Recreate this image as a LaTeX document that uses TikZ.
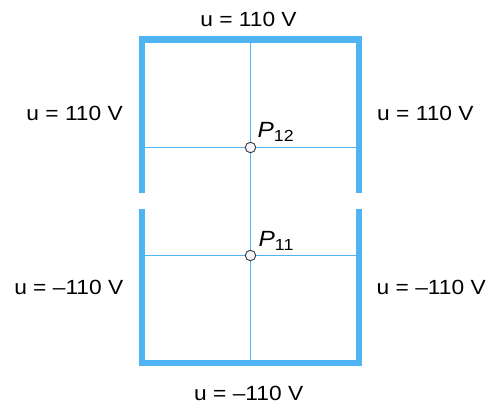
\documentclass[tikz,border=0pt]{standalone}
\usepackage{fontspec}
\setmainfont{Liberation Sans}
\newfontfamily\lblfont[FakeStretch=1.11]{Liberation Sans}
\definecolor{wallblue}{RGB}{80,180,242}
\definecolor{ptedge}{RGB}{60,60,60}
\definecolor{ptfill}{RGB}{246,246,252}
\begin{document}
\begin{tikzpicture}[x=1pt,y=-1pt,
  wall/.style={draw=wallblue,line width=6.2pt,line cap=butt,line join=miter},
  grid/.style={draw=wallblue,line width=1.1pt},
  pt/.style={circle,draw=ptedge,fill=ptfill,line width=0.9pt,minimum size=10.5pt,inner sep=0pt},
  lbl/.style={inner sep=0pt,font=\lblfont\fontsize{20.5}{22}\selectfont},
  plbl/.style={inner sep=0pt,anchor=base west,font=\lblfont\fontsize{22}{24}\selectfont\itshape}]
\useasboundingbox (0,0) rectangle (491,406);
% corners and ends
\coordinate (tl) at (142.3,39.5);
\coordinate (tr) at (358.6,39.5);
\coordinate (bl) at (142.3,363);
\coordinate (br) at (358.6,363);
\coordinate (lgu) at (142.3,193.3);
\coordinate (lgd) at (142.3,209.3);
\coordinate (rgu) at (358.6,193.3);
\coordinate (rgd) at (358.6,209.3);
\coordinate (vt) at (250.5,39.5);
\coordinate (vb) at (250.5,363);
\coordinate (h1l) at (142.3,147.5);
\coordinate (h1r) at (358.6,147.5);
\coordinate (h2l) at (142.3,255.5);
\coordinate (h2r) at (358.6,255.5);
% grid lines
\draw[grid] (vt) -- (vb);
\draw[grid] (h1l) -- (h1r);
\draw[grid] (h2l) -- (h2r);
% walls
\draw[wall] (lgu) -- (tl) -- (tr) -- (rgu);
\draw[wall] (lgd) -- (bl) -- (br) -- (rgd);
% points
\node[pt] (p12) at (250.5,147.5) {};
\node[pt] (p11) at (250.5,255.5) {};
\node[plbl] (l12) at (257.5,137.7) {P\raisebox{-4pt}{\fontsize{16}{18}\selectfont\upshape 12}};
\node[plbl] (l11) at (258.5,246.7) {P\raisebox{-4pt}{\fontsize{16}{18}\selectfont\upshape 11}};
% boundary labels
\node[lbl,anchor=base] (top) at (248.5,26.7) {u = 110 V};
\node[lbl,anchor=base] (bot) at (248.7,401) {u = –110 V};
\node[lbl,anchor=base east] (lu) at (123,121) {u = 110 V};
\node[lbl,anchor=base east] (ll) at (123.5,295) {u = –110 V};
\node[lbl,anchor=base west] (ru) at (377,120.7) {u = 110 V};
\node[lbl,anchor=base west] (rl) at (376.5,295) {u = –110 V};
\end{tikzpicture}
\end{document}
